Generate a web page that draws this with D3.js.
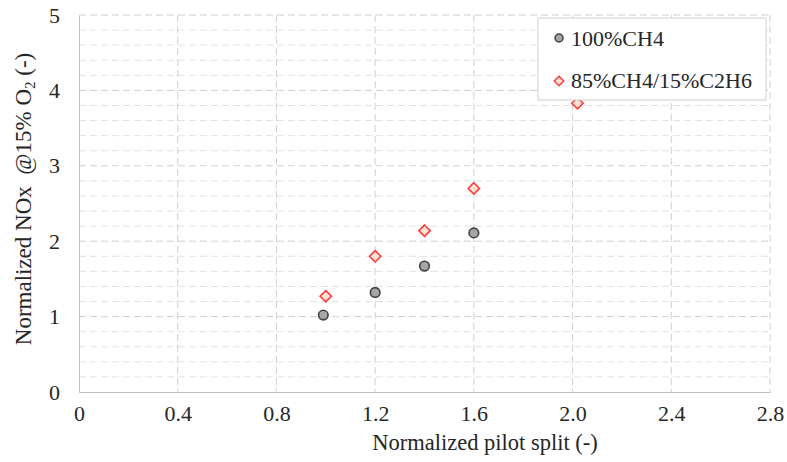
<!doctype html>
<html>
<head>
<script src="https://d3js.org/d3.v7.min.js"></script>
<style>
body { margin: 0; background: #fff; }
svg text { font-family: "Liberation Serif", "Times New Roman", "DejaVu Serif", serif; fill: #262626; }
</style>
</head>
<body>
<script>
// data
var ch4X = [0.99, 1.20, 1.40, 1.60];
var ch4Y = [1.02, 1.32, 1.67, 2.11];
var mixX = [1.00, 1.20, 1.40, 1.60, 2.02];
var mixY = [1.27, 1.80, 2.14, 2.70, 3.83];
var xTicks = [0, 0.4, 0.8, 1.2, 1.6, 2.0, 2.4, 2.8];
var xTickLabels = ['0', '0.4', '0.8', '1.2', '1.6', '2.0', '2.4', '2.8'];
var yTicks = [0, 1, 2, 3, 4, 5];
var yMinor = d3.range(0, 5.01, 0.2);
var seriesNames = ['100%CH4', '85%CH4/15%C2H6'];

var width = 787, height = 462;
var mLeft = 79, mRight = 770, mTop = 15, mBottom = 392;
var serif = '"Liberation Serif", "Times New Roman", serif';

var svg = d3.select('body').append('svg').attr('width', width).attr('height', height)
	.attr('font-family', serif);

var xScale = d3.scaleLinear().domain([0, 2.8]).range([mLeft, mRight]);
var yScale = d3.scaleLinear().domain([0, 5]).range([mBottom, mTop]);

// minor horizontal grid
svg.append('g').selectAll('line').data(yMinor.filter(function(d){ return Math.abs(d - Math.round(d)) > 0.01; }))
	.enter().append('line')
	.attr('x1', mLeft).attr('x2', mRight)
	.attr('y1', function(d){ return yScale(d); }).attr('y2', function(d){ return yScale(d); })
	.style('stroke', '#e2e2e2').style('stroke-dasharray', '7,4');

// major horizontal grid
svg.append('g').selectAll('line').data(yTicks.slice(1))
	.enter().append('line')
	.attr('x1', mLeft).attr('x2', mRight)
	.attr('y1', function(d){ return yScale(d); }).attr('y2', function(d){ return yScale(d); })
	.style('stroke', '#cfcfcf').style('stroke-dasharray', '7,4');

// vertical grid
svg.append('g').selectAll('line').data(xTicks.slice(1))
	.enter().append('line')
	.attr('x1', function(d){ return xScale(d); }).attr('x2', function(d){ return xScale(d); })
	.attr('y1', mTop).attr('y2', mBottom)
	.style('stroke', '#cfcfcf').style('stroke-dasharray', '7,4');

// axes
var xAxis = d3.axisBottom(xScale).tickValues(xTicks).tickSize(0).tickPadding(13)
	.tickFormat(function(d, i){ return xTickLabels[i]; });
var gx = svg.append('g').attr('transform', 'translate(0,' + mBottom + ')').call(xAxis)
	.attr('font-family', serif).attr('font-size', 22);
gx.select('.domain').style('stroke', '#bfbfbf');
gx.selectAll('text').style('fill', '#262626');

var yAxis = d3.axisLeft(yScale).tickValues(yTicks).tickSize(0).tickPadding(19).tickFormat(d3.format('d'));
var gy = svg.append('g').attr('transform', 'translate(' + mLeft + ',0)').call(yAxis)
	.attr('font-family', serif).attr('font-size', 22);
gy.select('.domain').style('stroke', '#bfbfbf');
gy.selectAll('text').style('fill', '#262626');

// axis titles
svg.append('text').attr('x', 485).attr('y', 450)
	.attr('text-anchor', 'middle').style('font-size', '22.5px')
	.text('Normalized pilot split (-)');

var yTitle = svg.append('text').attr('transform', 'translate(31,199) rotate(-90)')
	.attr('text-anchor', 'middle').style('font-size', '23px');
yTitle.append('tspan').text('Normalized NOx\u00a0\u00a0@15% O');
yTitle.append('tspan').attr('dy', 4).style('font-size', '15px').text('2');
yTitle.append('tspan').attr('dy', -4).text(' (-)');

// markers
var diamond = d3.symbol().type(d3.symbolDiamond2);
function drawCircles(g, xs, ys, r) {
	g.selectAll('circle').data(xs).enter().append('circle')
		.attr('cx', function(d){ return xScale(d); })
		.attr('cy', function(d, i){ return yScale(ys[i]); })
		.attr('r', r)
		.style('fill', '#a6a6a6').style('stroke', '#404040').style('stroke-width', 1.6);
}
function drawDiamonds(g, xs, ys, s) {
	g.selectAll('path').data(xs).enter().append('path')
		.attr('d', diamond.size(s)())
		.attr('transform', function(d, i){ return 'translate(' + xScale(d) + ',' + yScale(ys[i]) + ')'; })
		.style('fill', '#fbe2d5').style('stroke', '#ff3b3b').style('stroke-width', 1.6);
}
drawCircles(svg.append('g'), ch4X, ch4Y, 4.8);
drawDiamonds(svg.append('g'), mixX, mixY, 82);

// legend
var lg = svg.append('g').attr('transform', 'translate(538,18)');
lg.append('rect').attr('width', 228).attr('height', 82)
	.style('fill', '#fff').style('stroke', '#d0d0d0');
lg.append('circle').attr('cx', 21).attr('cy', 20).attr('r', 4)
	.style('fill', '#a6a6a6').style('stroke', '#404040').style('stroke-width', 1.5);
lg.append('path').attr('d', diamond.size(58)()).attr('transform', 'translate(21,63)')
	.style('fill', '#fbe2d5').style('stroke', '#ff3b3b').style('stroke-width', 1.5);
lg.selectAll('text.leg').data(seriesNames).enter().append('text').attr('class', 'leg')
	.attr('x', 33).attr('y', function(d, i){ return 28 + i * 42; })
	.style('font-size', '22px').text(function(d){ return d; });
</script>
</body>
</html>
